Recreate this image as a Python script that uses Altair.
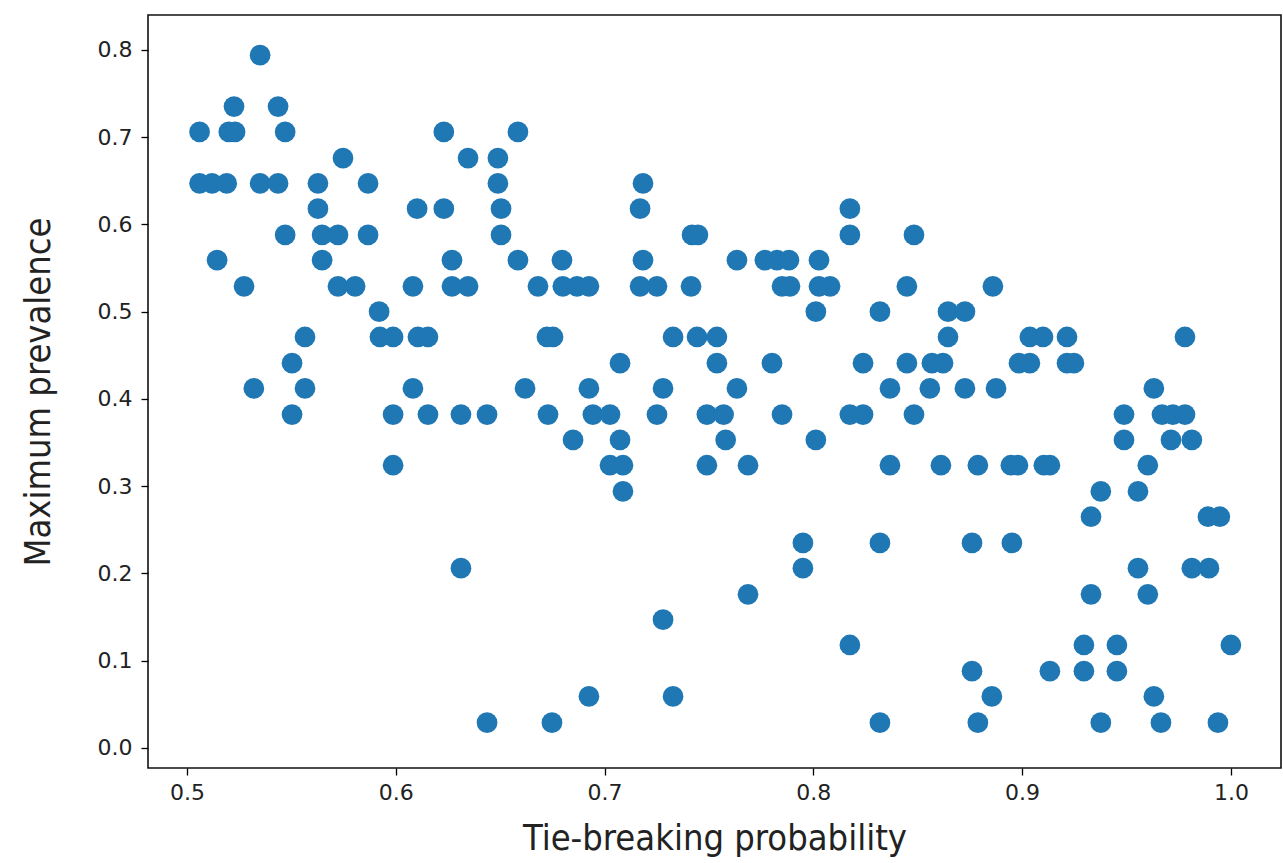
import altair as alt
import pandas as pd

# Tie-breaking probability (x) grouped by maximum prevalence level (y)
prevalence_levels = [0.794, 0.735, 0.706, 0.676, 0.647, 0.618, 0.588, 0.559, 0.529, 0.5,
                     0.471, 0.441, 0.412, 0.382, 0.353, 0.324, 0.294, 0.265, 0.235,
                     0.206, 0.176, 0.147, 0.118, 0.088, 0.059, 0.029]

tie_breaking = [
    [0.535],
    [0.5225, 0.5436],
    [0.506, 0.520, 0.523, 0.547, 0.623, 0.6585],
    [0.5747, 0.6346, 0.6489],
    [0.506, 0.512, 0.519, 0.535, 0.5436, 0.5627, 0.5867, 0.6489, 0.7184],
    [0.5627, 0.6102, 0.623, 0.6504, 0.717, 0.8175],
    [0.547, 0.5647, 0.5723, 0.5867, 0.6504, 0.7419, 0.7447, 0.8175, 0.8482],
    [0.5144, 0.5647, 0.6269, 0.6585, 0.6796, 0.7184, 0.7634, 0.7768, 0.7826, 0.7883, 0.8027],
    [0.5273, 0.5723, 0.5805, 0.6082, 0.6269, 0.6346, 0.6681, 0.680, 0.6868, 0.6925, 0.717,
     0.7251, 0.7414, 0.785, 0.7888, 0.8027, 0.808, 0.8448, 0.886],
    [0.592, 0.8012, 0.8319, 0.8645, 0.8726],
    [0.5565, 0.5924, 0.5987, 0.6106, 0.6154, 0.6724, 0.6753, 0.7328, 0.7443, 0.7538, 0.8645,
     0.9037, 0.91, 0.9215, 0.978],
    [0.5503, 0.7074, 0.7538, 0.7802, 0.8238, 0.8448, 0.8568, 0.8621, 0.8985, 0.9037, 0.9215, 0.9248],
    [0.532, 0.5565, 0.6082, 0.6619, 0.6925, 0.728, 0.7634, 0.8367, 0.8558, 0.8726, 0.8875, 0.9631],
    [0.5503, 0.5987, 0.6154, 0.6312, 0.6437, 0.6729, 0.6944, 0.7026, 0.7251, 0.749, 0.757,
     0.785, 0.8175, 0.8238, 0.8482, 0.9488, 0.967, 0.9722, 0.978],
    [0.6849, 0.7074, 0.758, 0.8012, 0.9488, 0.9713, 0.9813],
    [0.5987, 0.7026, 0.7088, 0.749, 0.7687, 0.8367, 0.8611, 0.8788, 0.8946, 0.898, 0.9104,
     0.9133, 0.9602],
    [0.7088, 0.9377, 0.9555],
    [0.933, 0.989, 0.9947],
    [0.795, 0.8319, 0.876, 0.8951],
    [0.6312, 0.795, 0.9555, 0.9813, 0.9895],
    [0.7687, 0.933, 0.9602],
    [0.728],
    [0.8175, 0.9296, 0.9454, 1.0],
    [0.876, 0.9133, 0.9296, 0.9454],
    [0.6925, 0.7328, 0.8855, 0.9631],
    [0.6437, 0.6748, 0.8319, 0.8788, 0.9377, 0.9665, 0.9938],
]

x_ticks = [0.5, 0.6, 0.7, 0.8, 0.9, 1.0]
y_ticks = [0.0, 0.1, 0.2, 0.3, 0.4, 0.5, 0.6, 0.7, 0.8]

rows = []
for level, xs in zip(prevalence_levels, tie_breaking):
    for xv in xs:
        rows.append({"tie": xv, "prev": level})
df = pd.DataFrame(rows)

FONT = "DejaVu Sans"
TITLE_FONT = "DejaVu Sans Condensed, DejaVu Sans"

axis_style = dict(
    format=".1f", grid=False, domain=False,
    tickSize=7, tickWidth=1.3, tickColor="#000",
    labelFontSize=22, labelColor="#222", labelFont=FONT,
    titleFontSize=36, titleColor="#222", titleFontWeight="normal", titleFont=TITLE_FONT,
)

chart = (
    alt.Chart(df)
    .mark_circle(size=430, color="#1f77b4", opacity=1)
    .encode(
        x=alt.X(
            "tie:Q",
            title="Tie-breaking probability",
            scale=alt.Scale(domain=[0.4813, 1.024], nice=False, zero=False),
            axis=alt.Axis(values=x_ticks, labelPadding=7, titlePadding=18, **axis_style),
        ),
        y=alt.Y(
            "prev:Q",
            title="Maximum prevalence",
            scale=alt.Scale(domain=[-0.023, 0.84], nice=False, zero=False),
            axis=alt.Axis(values=y_ticks, labelPadding=9, titlePadding=40, **axis_style),
        ),
    )
    .properties(
        width=1133,
        height=753,
        autosize=alt.AutoSizeParams(type="none"),
        padding={"left": 148, "top": 15, "right": 2, "bottom": 95},
    )
    .configure_view(stroke="#111", strokeWidth=1.6, fill="white")
)

chart.save("out.html", embed_options={"renderer": "svg", "actions": False})
